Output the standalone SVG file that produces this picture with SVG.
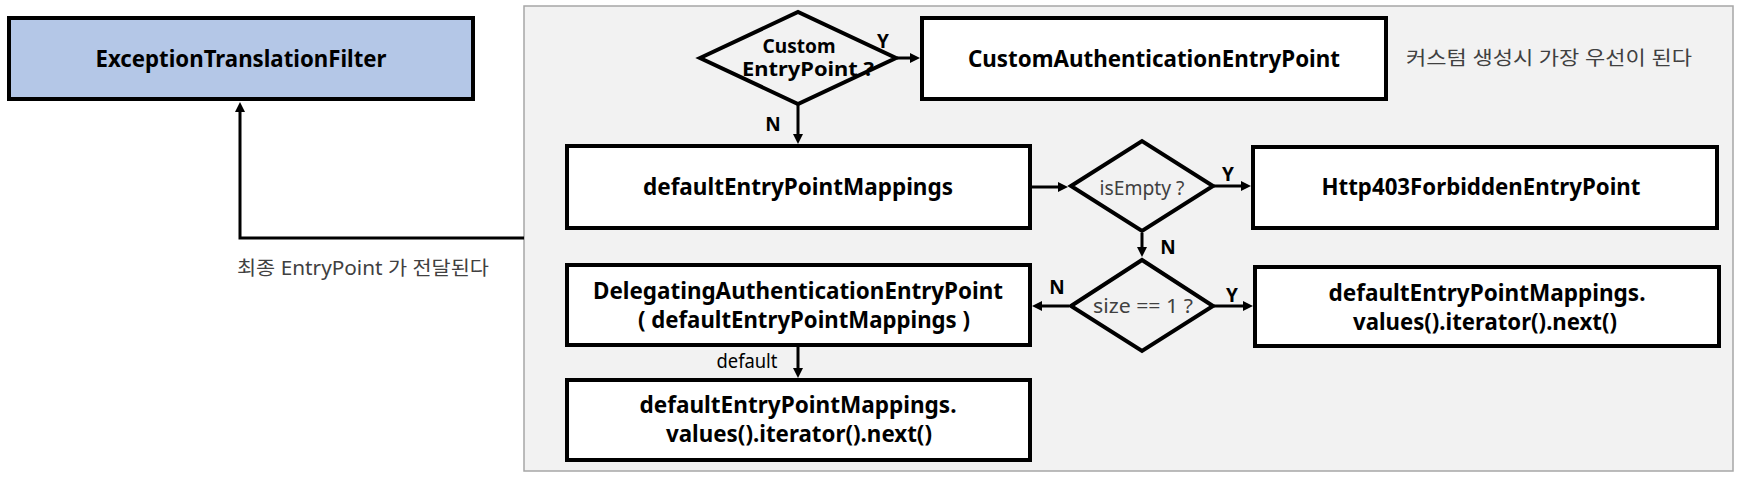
<svg xmlns="http://www.w3.org/2000/svg" width="1750" height="480" viewBox="0 0 1750 480">
<defs>
<style>
.box{fill:#ffffff;stroke:#000000;stroke-width:4}
.dia{fill:#f2f2f2;stroke:#000000;stroke-width:4;stroke-linejoin:miter}
.t{font-family:"Noto Sans","Liberation Sans",sans-serif;font-weight:bold;font-size:23px;fill:#000000;text-anchor:middle}
.lbl{font-family:"Noto Sans","Liberation Sans",sans-serif;font-weight:bold;font-size:19px;fill:#000000;text-anchor:middle}
.q{font-family:"Noto Sans","Liberation Sans",sans-serif;font-size:19px;fill:#404040;text-anchor:middle}
.note{font-family:"Noto Sans","Noto Sans CJK KR",sans-serif;font-size:19px;fill:#404040}
.c{fill:none;stroke:#000000;stroke-width:3}
</style>
<marker id="ah" markerUnits="userSpaceOnUse" markerWidth="12" markerHeight="12" refX="6" refY="5" orient="auto">
<path d="M0,0 L10,5 L0,10 z" fill="#000000"/>
</marker>
</defs>
<rect x="0" y="0" width="1750" height="480" fill="#ffffff"/>
<g id="panel">
<rect x="524" y="6" width="1209" height="465" fill="#f2f2f2" stroke="#a6a6a6" stroke-width="1.5"/>
</g>
<g id="etf">
<rect x="9" y="18" width="464" height="81" fill="#b4c7e7" stroke="#000000" stroke-width="4"/>
<text class="t" x="241" y="67" textLength="291" lengthAdjust="spacingAndGlyphs">ExceptionTranslationFilter</text>
</g>
<g id="d-custom">
<polygon class="dia" points="700,58 798,12 896,58 798,104"/>
<text class="lbl" x="799" y="53" textLength="73" lengthAdjust="spacingAndGlyphs">Custom</text>
<text class="lbl" x="808" y="76" textLength="132" lengthAdjust="spacingAndGlyphs">EntryPoint ?</text>
</g>
<g id="custom-ep">
<rect class="box" x="922" y="18" width="464" height="81"/>
<text class="t" x="1154" y="67" textLength="372" lengthAdjust="spacingAndGlyphs">CustomAuthenticationEntryPoint</text>
</g>
<g id="note-custom">
<text class="note" x="1406" y="65" textLength="286" lengthAdjust="spacingAndGlyphs">커스텀 생성시 가장 우선이 된다</text>
</g>
<g id="default-mappings">
<rect class="box" x="567" y="146" width="463" height="82"/>
<text class="t" x="798" y="195" textLength="310" lengthAdjust="spacingAndGlyphs">defaultEntryPointMappings</text>
</g>
<g id="d-empty">
<polygon class="dia" points="1071,186 1142,141 1213,186 1142,231"/>
<text class="q" x="1142" y="195" textLength="85" lengthAdjust="spacingAndGlyphs">isEmpty ?</text>
</g>
<g id="http403">
<rect class="box" x="1253" y="147" width="464" height="81"/>
<text class="t" x="1481" y="195" textLength="319" lengthAdjust="spacingAndGlyphs">Http403ForbiddenEntryPoint</text>
</g>
<g id="d-size">
<polygon class="dia" points="1071,306 1142,260 1213,306 1142,351"/>
<text class="q" x="1143" y="313" textLength="100" lengthAdjust="spacingAndGlyphs">size == 1 ?</text>
</g>
<g id="delegating">
<rect class="box" x="567" y="265" width="463" height="80"/>
<text class="t" x="798" y="299" textLength="410" lengthAdjust="spacingAndGlyphs">DelegatingAuthenticationEntryPoint</text>
<text class="t" x="804" y="328" textLength="332" lengthAdjust="spacingAndGlyphs">( defaultEntryPointMappings )</text>
</g>
<g id="default-next">
<rect class="box" x="567" y="380" width="463" height="80"/>
<text class="t" x="798" y="413" textLength="317" lengthAdjust="spacingAndGlyphs">defaultEntryPointMappings.</text>
<text class="t" x="799" y="442" textLength="266" lengthAdjust="spacingAndGlyphs">values().iterator().next()</text>
</g>
<g id="single-next">
<rect class="box" x="1255" y="267" width="464" height="79"/>
<text class="t" x="1487" y="301" textLength="317" lengthAdjust="spacingAndGlyphs">defaultEntryPointMappings.</text>
<text class="t" x="1485" y="330" textLength="264" lengthAdjust="spacingAndGlyphs">values().iterator().next()</text>
</g>
<g id="connectors">
<path class="c" d="M524,238 L240,238 L240,106" stroke-width="2.5" marker-end="url(#ah)"/>
<line class="c" x1="897" y1="58" x2="916" y2="58" marker-end="url(#ah)"/>
<line class="c" x1="798" y1="105" x2="798" y2="140" marker-end="url(#ah)"/>
<line class="c" x1="1032" y1="187" x2="1064" y2="187" marker-end="url(#ah)"/>
<line class="c" x1="1214" y1="186" x2="1247" y2="186" marker-end="url(#ah)"/>
<line class="c" x1="1142" y1="233" x2="1142" y2="253" marker-end="url(#ah)"/>
<line class="c" x1="1069" y1="306" x2="1036" y2="306" marker-end="url(#ah)"/>
<line class="c" x1="1214" y1="306" x2="1249" y2="306" marker-end="url(#ah)"/>
<line class="c" x1="798" y1="347" x2="798" y2="374" marker-end="url(#ah)"/>
</g>
<g id="labels">
<text class="note" x="237" y="275" textLength="252" lengthAdjust="spacingAndGlyphs">최종 EntryPoint 가 전달된다</text>
<text class="lbl" x="883" y="48">Y</text>
<text class="lbl" x="773" y="131">N</text>
<text class="lbl" x="1228" y="181">Y</text>
<text class="lbl" x="1168" y="254">N</text>
<text class="lbl" x="1057" y="294">N</text>
<text class="lbl" x="1232" y="302">Y</text>
<text class="q" x="747" y="368" style="fill:#000000" textLength="61" lengthAdjust="spacingAndGlyphs">default</text>
</g>
</svg>
